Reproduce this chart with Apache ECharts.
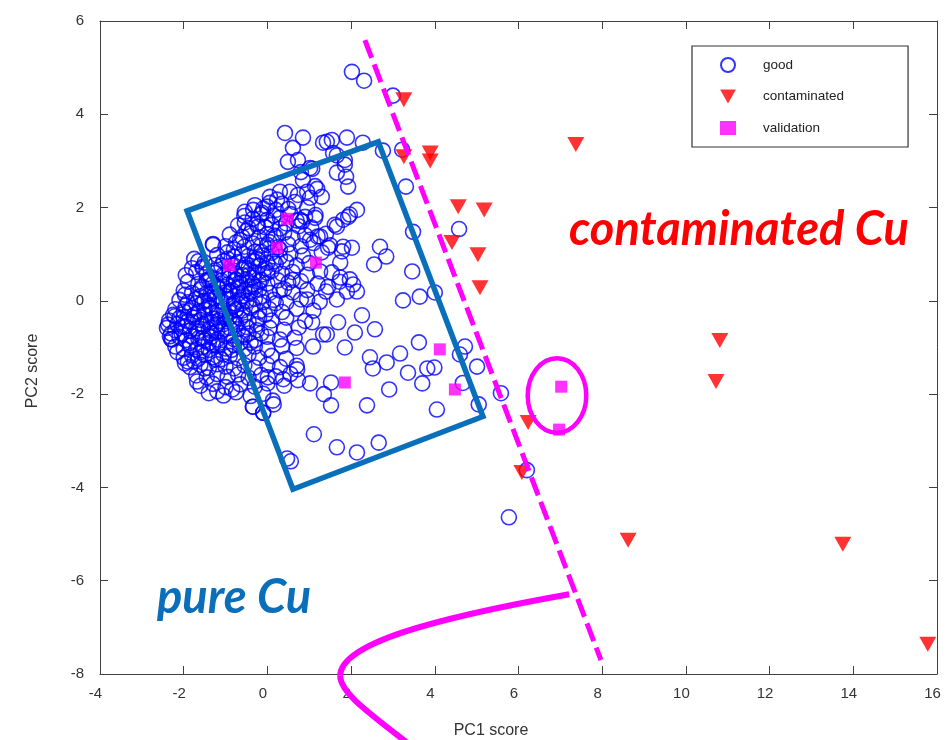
<!DOCTYPE html>
<html>
<head>
<meta charset="utf-8">
<script src="https://cdn.jsdelivr.net/npm/echarts@6/dist/echarts.min.js"></script>
<style>
  html, body { margin: 0; padding: 0; background: #fff; }
  #chart { width: 951px; height: 740px; }
</style>
</head>
<body>
<div id="chart"></div>
<script>
// PCA score plot: PC1 vs PC2 for pure and contaminated copper samples.

// Axis ranges and tick step
const xRange = [-4, 16];
const yRange = [-8, 6];
const tickStep = 2;

// "good" samples: dense core of the cloud
const goodCore = [
  [-0.3,2.05],[-0.1,1.98],[0.05,2.1],[0.2,1.95],[0.35,2.08],[0.5,1.97],[0.65,2.12],[0.95,2.0],
  [-0.55,1.82],[-0.35,1.76],[-0.15,1.85],[0.0,1.74],[0.15,1.83],[0.3,1.78],[0.55,1.86],[0.7,1.72],[0.9,1.8],[1.15,1.84],
  [-0.7,1.62],[-0.45,1.56],[-0.25,1.65],[-0.05,1.58],[0.1,1.63],[0.3,1.55],[0.45,1.66],[0.75,1.6],[1.05,1.57],
  [-0.9,1.42],[-0.6,1.37],[-0.4,1.45],[-0.2,1.36],[0.0,1.43],[0.2,1.38],[0.4,1.46],[0.6,1.35],[0.9,1.41],[1.2,1.38],[1.4,1.44],
  [-1.3,1.22],[-1.0,1.17],[-0.75,1.25],[-0.55,1.16],[-0.35,1.23],[-0.15,1.18],[0.05,1.26],[0.25,1.15],[0.5,1.21],[0.8,1.17],[1.1,1.24],[1.5,1.19],
  [-1.2,0.98],[-0.95,1.04],[-0.8,0.95],[-0.6,1.02],[-0.45,0.96],[-0.3,1.05],[-0.1,0.97],[0.1,1.03],[0.3,0.94],[0.55,1.01],[0.85,0.97],[1.3,1.04],
  [-1.5,0.82],[-1.25,0.77],[-1.05,0.85],[-0.85,0.76],[-0.7,0.83],[-0.5,0.78],[-0.35,0.86],[-0.2,0.75],[0.0,0.82],[0.2,0.79],[0.45,0.84],[0.7,0.76],[1.0,0.81],
  [-1.7,0.62],[-1.45,0.57],[-1.25,0.65],[-1.05,0.56],[-0.9,0.63],[-0.75,0.58],[-0.6,0.66],[-0.45,0.55],[-0.3,0.61],[-0.1,0.57],[0.1,0.64],[0.35,0.58],[0.6,0.62],[0.95,0.56],
  [-1.9,0.41],[-1.65,0.36],[-1.45,0.44],[-1.3,0.37],[-1.1,0.43],[-0.95,0.35],[-0.8,0.42],[-0.65,0.38],[-0.5,0.45],[-0.35,0.36],[-0.2,0.41],[0.0,0.37],[0.25,0.44],[0.5,0.39],[0.8,0.42],[1.2,0.37],
  [-2.0,0.22],[-1.8,0.17],[-1.6,0.24],[-1.45,0.16],[-1.3,0.21],[-1.15,0.25],[-1.0,0.18],[-0.85,0.23],[-0.7,0.15],[-0.55,0.22],[-0.4,0.19],[-0.2,0.24],[0.05,0.17],[0.3,0.22],[0.6,0.18],[0.95,0.23],[1.4,0.2],
  [-2.1,0.02],[-1.9,-0.03],[-1.7,0.04],[-1.55,-0.04],[-1.4,0.01],[-1.25,0.05],[-1.1,-0.02],[-0.95,0.03],[-0.8,-0.05],[-0.65,0.02],[-0.5,-0.01],[-0.3,0.04],[-0.1,-0.03],[0.15,0.02],[0.45,-0.04],[0.8,0.03],[1.25,-0.02],
  [-2.2,-0.18],[-2.0,-0.23],[-1.8,-0.16],[-1.65,-0.24],[-1.5,-0.19],[-1.35,-0.15],[-1.2,-0.22],[-1.05,-0.17],[-0.9,-0.25],[-0.75,-0.18],[-0.6,-0.21],[-0.4,-0.16],[-0.2,-0.23],[0.05,-0.18],[0.35,-0.24],[0.7,-0.17],[1.1,-0.21],
  [-2.35,-0.42],[-2.1,-0.37],[-1.9,-0.44],[-1.75,-0.36],[-1.6,-0.41],[-1.45,-0.45],[-1.3,-0.38],[-1.15,-0.43],[-1.0,-0.35],[-0.85,-0.42],[-0.65,-0.38],[-0.45,-0.44],[-0.2,-0.37],[0.1,-0.42],[0.45,-0.36],[0.9,-0.43],
  [-2.4,-0.58],[-2.2,-0.63],[-2.0,-0.56],[-1.85,-0.64],[-1.7,-0.59],[-1.55,-0.55],[-1.4,-0.62],[-1.25,-0.57],[-1.1,-0.65],[-0.9,-0.58],[-0.7,-0.61],[-0.5,-0.56],[-0.25,-0.63],[0.05,-0.58],[0.4,-0.62],[0.75,-0.57],
  [-2.3,-0.82],[-2.1,-0.77],[-1.95,-0.84],[-1.8,-0.76],[-1.65,-0.81],[-1.5,-0.85],[-1.35,-0.78],[-1.2,-0.83],[-1.0,-0.75],[-0.8,-0.82],[-0.55,-0.78],[-0.3,-0.84],[0.0,-0.77],[0.3,-0.83],[0.65,-0.79],
  [-2.2,-0.98],[-2.0,-1.03],[-1.85,-0.96],[-1.7,-1.04],[-1.55,-0.99],[-1.4,-1.05],[-1.2,-0.97],[-1.0,-1.02],[-0.8,-0.95],[-0.55,-1.03],[-0.3,-0.98],[0.0,-1.04],[0.35,-0.97],[0.7,-1.01],
  [-2.0,-1.22],[-1.8,-1.17],[-1.65,-1.24],[-1.5,-1.16],[-1.3,-1.21],[-1.1,-1.25],[-0.9,-1.18],[-0.7,-1.23],[-0.45,-1.15],[-0.2,-1.22],[0.1,-1.18],[0.45,-1.24],
  [-1.85,-1.42],[-1.6,-1.37],[-1.4,-1.44],[-1.2,-1.36],[-1.0,-1.41],[-0.8,-1.45],[-0.55,-1.38],[-0.3,-1.43],[0.0,-1.37],[0.3,-1.42],[0.7,-1.39],
  [-1.7,-1.6],[-1.45,-1.64],[-1.2,-1.57],[-0.95,-1.63],[-0.7,-1.58],[-0.45,-1.65],[-0.15,-1.59],[0.2,-1.62],[0.55,-1.57],
  [-1.6,-1.82],[-1.3,-1.78],[-1.0,-1.85],[-0.65,-1.79],[-0.3,-1.84],[0.0,-1.77],[0.4,-1.82],
  [-1.4,-1.98],[-1.05,-2.03],[-0.75,-1.96],[-0.4,-2.04],[-0.1,-1.99],
  [-0.35,-2.27],[0.15,-2.22],[-0.1,-2.4],
  [-1.75,0.9],[-1.55,0.7],[-1.35,0.5],[-1.2,0.3],[-1.0,0.1],[-0.9,0.5],[-0.7,0.3],[-0.55,0.7],[-0.35,0.5],[-0.25,0.9],[-0.05,0.7],
  [-1.95,-0.1],[-1.75,-0.3],[-1.55,-0.5],[-1.35,-0.7],[-1.15,-0.9],[-0.95,-0.7],[-0.75,-0.5],[-0.55,-0.3],[-0.35,-0.1],[-0.15,0.1],
  [-2.05,-0.7],[-1.85,-0.9],[-1.6,-1.1],[-1.4,-0.9],[-1.2,-0.5],[-1.0,-0.3],[-0.8,-0.1],[-0.6,0.1],[-0.4,0.3],[-1.6,0.1],[-1.4,-0.1],[-1.2,-0.3],
  [-2.15,-0.5],[-2.0,-0.35],[-1.85,-0.2],[-1.7,-0.05],[-1.55,0.3],[-1.4,0.45],[-1.25,0.6],[-1.1,0.75],[-0.95,0.9],[-0.8,1.1],[-0.65,1.3],[-0.5,1.5],
  [-1.95,-0.55],[-1.8,-0.45],[-1.65,-0.65],[-1.5,-0.3],[-1.35,-0.45],[-1.2,-0.65],[-1.05,-0.5],[-0.9,-0.35],[-0.75,-0.2],[-0.6,-0.05],[-0.45,0.15],[-0.3,0.3],[-0.15,0.45],[0.0,0.6],[0.15,0.85],[0.3,1.1],
  [-1.5,0.0],[-1.35,0.15],[-1.2,0.1],[-1.05,0.3],[-0.9,0.2],[-0.75,0.45],[-0.6,0.55],[-0.45,0.7],[-0.3,0.85],[-0.15,1.05],[0.0,1.2],[0.15,1.4],
  [-1.75,-1.3],[-1.5,-1.45],[-1.25,-1.25],[-1.05,-1.15],[-0.85,-1.05],[-0.65,-0.9],[-0.45,-0.7],[-0.25,-0.5],[-0.05,-0.3],[0.2,-0.05],[0.4,0.25],[0.6,0.45],
  [-1.55,-0.8],[-1.3,-0.95],[-1.0,-0.6],[-0.8,-0.45],[-0.6,-0.75],[-0.4,-0.9],[-0.15,-0.7],
  [-2.25,-0.3],[-2.3,-0.7],[-2.15,-1.1],[-1.9,-1.3],[-1.95,0.55],[-1.8,0.7],[-1.65,0.85]
];

// "good" samples: sparser points around the core
const goodOuter = [
  [2.02,4.91],[2.31,4.72],[3.00,4.40],
  [0.42,3.60],[0.85,3.50],[1.33,3.39],[1.54,3.45],[1.90,3.50],[2.28,3.39],[2.76,3.22],[3.22,3.24],
  [0.61,3.28],[1.42,3.41],[1.57,3.17],[1.66,3.12],[1.85,3.02],[0.73,3.02],[0.49,2.98],
  [1.02,2.85],[1.07,2.83],[0.80,2.76],[1.66,2.75],[1.85,2.92],[1.88,2.66],[1.93,2.45],
  [0.95,2.34],[1.19,2.40],[1.30,2.23],[0.85,2.59],[1.14,2.46],[0.54,2.34],[0.30,2.34],[1.02,2.21],[0.73,2.27],[0.06,2.23],[0.23,2.17],
  [3.31,2.45],
  [1.14,1.78],[0.83,1.70],[2.14,1.95],[1.97,1.85],[1.81,1.74],[1.66,1.59],[1.93,1.80],[1.61,1.63],[0.78,1.74],
  [1.26,1.38],[1.02,1.31],[1.45,1.14],[1.81,1.16],[1.78,1.06],[2.02,1.14],
  [2.69,1.16],[2.84,0.95],[2.55,0.78],[3.48,1.48],[4.58,1.54],[3.46,0.63],
  [-0.54,1.91],[-0.34,1.95],[-0.13,1.89],[-0.01,2.02],[-0.54,1.68],[-0.22,1.59],
  [-1.30,1.20],[-1.54,0.73],
  [1.74,0.50],[2.05,0.35],[1.72,0.41],[2.14,0.20],[3.24,0.01],[3.64,0.09],[4.00,0.18],
  [1.97,0.46],[1.54,0.61],[1.26,0.63],[1.74,0.82],[1.66,0.03],[1.90,0.20],[1.45,0.30],[0.95,0.03],
  [2.26,-0.31],[1.69,-0.46],[2.57,-0.61],[2.09,-0.68],[1.42,-0.72],[1.07,-0.46],[1.33,-0.72],
  [1.09,-0.98],[1.85,-1.00],[2.45,-1.21],[2.85,-1.32],[3.17,-1.13],[2.52,-1.45],[3.36,-1.54],[3.62,-0.89],
  [3.82,-1.45],[3.99,-1.43],[3.70,-1.77],[2.91,-1.90],[2.38,-2.24],[1.52,-2.24],[1.35,-2.00],[1.52,-1.75],[1.02,-1.77],[0.71,-1.47],
  [4.60,-1.15],[4.72,-0.98],[5.01,-1.41],[4.67,-1.76],[5.05,-2.22],[4.05,-2.33],[5.58,-1.98],[6.20,-3.63],[5.77,-4.64],
  [1.11,-2.86],[1.66,-3.14],[2.14,-3.25],[2.66,-3.04],[0.56,-3.44],[0.47,-3.38],
  [-0.34,-2.27],[-0.10,-2.40],[0.13,-2.14],
  [-1.68,-1.73],[-1.20,-1.94],[-0.84,-1.90],[-2.37,-0.51],[-2.28,-0.83],
  [0.38,-1.68],[0.73,-1.70],[0.01,-1.64],[-1.97,-1.34],[-2.33,-0.76],[-2.21,-0.33],[-1.97,0.13]
];

// contaminated samples
const contaminated = [
  [3.26,4.31],[3.26,3.09],[3.89,3.17],[3.89,3.00],[4.56,2.02],[5.18,1.95],[4.41,1.25],[5.03,0.99],
  [5.08,0.28],[7.37,3.35],[6.23,-2.61],[6.08,-3.68],[10.81,-0.85],[10.72,-1.73],[8.62,-5.13],
  [13.75,-5.22],[15.78,-7.36]
];

// validation samples
const validation = [
  [-0.92,0.76],[0.23,1.14],[0.47,1.76],[1.16,0.82],[1.85,-1.75],[4.12,-1.04],[4.48,-1.90],[7.02,-1.84],[6.97,-2.76]
];

// Annotation geometry (data units)
const pureRegion = [[-1.92,1.93],[2.65,3.41],[5.15,-2.48],[0.61,-4.04]];
const cutLine = [[2.33,5.59],[7.97,-7.70]];
const outlierRing = { center: [6.92,-2.03], rx: 0.70, ry: 0.80 };
const arrowCurve = [
  [7.21,-6.29],[3.89,-6.82],[1.74,-7.36],[1.74,-8.04],
  [1.74,-8.36],[2.21,-8.70],[3.41,-9.52]
];

const axisColor = '#404040';
const labelFont = 'Liberation Sans, Arial, sans-serif';

function baseAxis(extra) {
  return Object.assign({
    type: 'value',
    interval: tickStep,
    axisLine: { show: true, onZero: false, lineStyle: { color: axisColor, width: 1 } },
    axisTick: { show: true, inside: true, length: 8, lineStyle: { color: axisColor, width: 1 } },
    splitLine: { show: false }
  }, extra);
}

const chart = echarts.init(document.getElementById('chart'), null, { renderer: 'canvas' });

chart.setOption({
  animation: false,
  backgroundColor: '#fff',
  grid: { left: 100, top: 21, right: 14, bottom: 66, containLabel: false },
  xAxis: [
    baseAxis({
      min: xRange[0], max: xRange[1], position: 'bottom',
      axisLabel: { fontSize: 15, color: '#333', fontFamily: labelFont, margin: 12, padding: [0, 9, 0, 0] }
    }),
    baseAxis({ min: xRange[0], max: xRange[1], position: 'top', axisLabel: { show: false } })
  ],
  yAxis: [
    baseAxis({
      min: yRange[0], max: yRange[1], position: 'left',
      axisLabel: { fontSize: 15, color: '#333', fontFamily: labelFont, margin: 16, padding: [0, 0, 14, 0] }
    }),
    baseAxis({ min: yRange[0], max: yRange[1], position: 'right', axisLabel: { show: false } })
  ],
  legend: {
    data: [
      { name: 'good' },
      { name: 'contaminated', icon: 'path://M0,0L17,0L8.5,15Z' },
      { name: 'validation' }
    ],
    orient: 'vertical',
    left: 692, top: 46,
    itemWidth: 16, itemHeight: 14, itemGap: 9.5,
    padding: [8, 64, 8, 28],
    borderColor: '#333', borderWidth: 1.2,
    backgroundColor: '#fff',
    selectedMode: false,
    textStyle: { fontSize: 13.5, lineHeight: 16, color: '#222', fontFamily: labelFont, padding: [0, 0, 6, 22] }
  },
  graphic: [
    { type: 'text', x: 491, y: 731, style: { text: 'PC1 score', fontSize: 16, fontFamily: labelFont, fill: '#333', align: 'center', verticalAlign: 'middle' } },
    { type: 'text', x: 33, y: 371, rotation: Math.PI / 2, style: { text: 'PC2 score', fontSize: 16, fontFamily: labelFont, fill: '#333', align: 'center', verticalAlign: 'middle' } },
    { type: 'text', x: 569, y: 230, z: 100, style: { text: 'contaminated Cu', fontSize: 47, fontWeight: 'bold', fontStyle: 'italic', fontFamily: 'Lato, sans-serif', fill: '#ff0000', verticalAlign: 'middle' } },
    { type: 'text', x: 157, y: 598, z: 100, style: { text: 'pure Cu', fontSize: 47, fontWeight: 'bold', fontStyle: 'italic', fontFamily: 'Lato, sans-serif', fill: '#0a6fba', verticalAlign: 'middle' } }
  ],
  series: [
    {
      name: 'good', type: 'scatter',
      data: goodCore.concat(goodOuter),
      symbol: 'circle', symbolSize: 15,
      itemStyle: { color: 'rgba(255,255,255,0)', borderColor: '#0000ff', borderWidth: 1.6 },
      emphasis: { disabled: true }
    },
    {
      name: 'contaminated', type: 'scatter',
      data: contaminated,
      symbol: 'triangle', symbolRotate: 180, symbolSize: [17, 15],
      itemStyle: { color: '#ff0000' },
      emphasis: { disabled: true }
    },
    {
      name: 'validation', type: 'scatter',
      data: validation,
      symbol: 'rect', symbolSize: 12,
      itemStyle: { color: '#ff00ff' },
      emphasis: { disabled: true }
    },
    {
      name: 'annotations', type: 'custom',
      data: [[0, 0]],
      silent: true,
      clip: false,
      z: 10,
      renderItem: function (params, api) {
        const box = pureRegion.map(p => api.coord(p));
        const a = api.coord(cutLine[0]);
        const b = api.coord(cutLine[1]);
        const c = api.coord(outlierRing.center);
        const r = api.size([outlierRing.rx, outlierRing.ry]);
        const q = arrowCurve.map(p => api.coord(p));
        const magenta = '#ff00ff';
        return {
          type: 'group',
          children: [
            { type: 'polygon', shape: { points: box }, style: { fill: 'none', stroke: '#0a6fba', lineWidth: 5.5, lineJoin: 'miter' } },
            { type: 'line', shape: { x1: a[0], y1: a[1], x2: b[0], y2: b[1] }, style: { stroke: magenta, lineWidth: 5, lineDash: [19, 7] } },
            { type: 'ellipse', shape: { cx: c[0], cy: c[1], rx: r[0], ry: r[1] }, style: { fill: 'none', stroke: magenta, lineWidth: 4.5 } },
            { type: 'bezierCurve', shape: { x1: q[0][0], y1: q[0][1], cpx1: q[1][0], cpy1: q[1][1], cpx2: q[2][0], cpy2: q[2][1], x2: q[3][0], y2: q[3][1] }, style: { fill: 'none', stroke: magenta, lineWidth: 6 } },
            { type: 'bezierCurve', shape: { x1: q[3][0], y1: q[3][1], cpx1: q[4][0], cpy1: q[4][1], cpx2: q[5][0], cpy2: q[5][1], x2: q[6][0], y2: q[6][1] }, style: { fill: 'none', stroke: magenta, lineWidth: 6 } }
          ]
        };
      }
    }
  ]
});
</script>
</body>
</html>
